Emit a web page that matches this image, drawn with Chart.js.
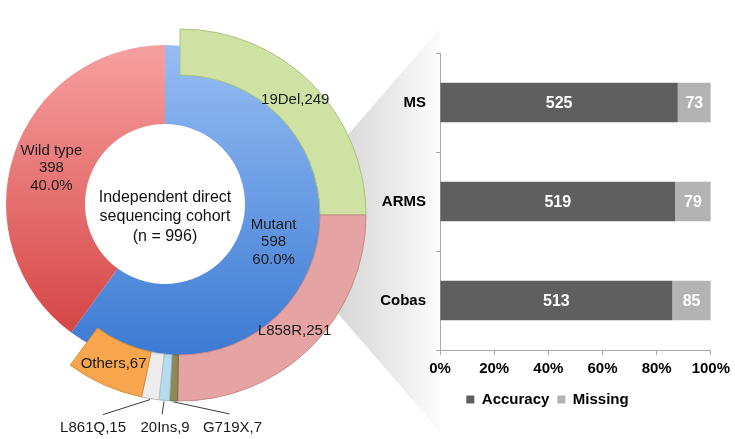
<!DOCTYPE html>
<html><head><meta charset="utf-8">
<script src="https://cdn.jsdelivr.net/npm/chart.js@4/dist/chart.umd.min.js"></script>
<style>
html,body{margin:0;padding:0;background:#fff;overflow:hidden;width:735px;height:439px;}
#wrap{position:relative;width:735px;height:439px;}
canvas{position:absolute;left:0;top:0;}
#wedge{position:absolute;left:320px;top:0;width:130px;height:439px;
  clip-path:polygon(15px 150px,120px 28px,120px 432px,15px 310px);
  background:linear-gradient(to right,#d2d2d2 0%,#e4e4e4 45%,#f6f6f6 80%,#ffffff 100%);}
</style></head><body>
<div id="wrap">
<div id="wedge"></div>
<canvas id="bars" width="735" height="439"></canvas>
<canvas id="pie" width="735" height="439"></canvas>
<canvas id="ring" width="735" height="439"></canvas>
</div>
<script>
// ---------- data ----------
const statusLabels = ['Mutant', 'Wild type'];
const statusCounts = [598, 398];
const subtypeLabels = ['19Del', 'L858R', 'G719X', '20Ins', 'L861Q', 'Others', 'Wild type'];
const subtypeCounts = [249, 251, 7, 9, 15, 67, 398];
const cohortLines = ['Independent direct', 'sequencing cohort', '(n = 996)'];
const methodLabels = ['MS', 'ARMS', 'Cobas'];
const accuracyCounts = [525, 519, 513];
const missingCounts = [73, 79, 85];
const seriesLabels = ['Accuracy', 'Missing'];
const xTickStep = 20;

// ---------- styling ----------
const FONT = "'Liberation Sans', Arial, Helvetica, sans-serif";
Chart.defaults.font.family = FONT;
Chart.defaults.animation = false;
Chart.defaults.devicePixelRatio = 1;
Chart.defaults.events = [];

const PIE_R = 159, PIE_HOLE = 80;
const RING_R = 186, RING_IN = 140;

function drawLines(ctx, lines, x, y, lh, font, color) {
  ctx.save();
  ctx.font = font; ctx.fillStyle = color;
  ctx.textAlign = 'center'; ctx.textBaseline = 'middle';
  const y0 = y - (lines.length - 1) * lh / 2;
  lines.forEach((t, i) => ctx.fillText(t, x, y0 + i * lh));
  ctx.restore();
}

function vGrad(chart, r, c0, c1) {
  const a = chart.chartArea;
  if (!a) return c1;
  const cy = (a.top + a.bottom) / 2;
  const g = chart.ctx.createLinearGradient(0, cy - r, 0, cy + r);
  g.addColorStop(0, c0); g.addColorStop(1, c1);
  return g;
}

// ---------- inner pie (mutation status) ----------
const statusTotal = statusCounts.reduce((a, b) => a + b, 0);
const pieLabelPlugin = {
  id: 'pieLabels',
  afterDatasetsDraw(chart) {
    const ctx = chart.ctx;
    const meta = chart.getDatasetMeta(0);
    meta.data.forEach((arc, i) => {
      const p = arc.tooltipPosition();
      const pct = (statusCounts[i] / statusTotal * 100).toFixed(1) + '%';
      const dx = i === 0 ? -5 : 0;
      drawLines(ctx, [statusLabels[i], String(statusCounts[i]), pct], p.x + dx, p.y + 1, 17.5, '15px ' + FONT, '#1a1a1a');
    });
    const c = meta.data[0];
    drawLines(ctx, cohortLines, c.x, c.y + 13, 19.5, '16px ' + FONT, '#111');
  }
};
new Chart(document.getElementById('pie'), {
  type: 'doughnut',
  data: {
    labels: statusLabels,
    datasets: [{
      data: statusCounts,
      backgroundColor: (c) => c.dataIndex === 0
        ? vGrad(c.chart, PIE_R, '#95bdf4', '#3a79d2')
        : vGrad(c.chart, PIE_R, '#f7a0a0', '#d23c3c'),
      borderWidth: 0,
      clip: false
    }]
  },
  options: {
    responsive: false,
    radius: PIE_R,
    cutout: (PIE_HOLE / PIE_R * 100) + '%',
    layout: {padding: {left: 0, right: 405, top: 0, bottom: 31}},
    plugins: {legend: {display: false}, tooltip: {enabled: false}}
  },
  plugins: [pieLabelPlugin]
});

// ---------- outer ring (mutation subtypes) ----------
const ringColors = ['#cfe2a4', '#e6a3a3', '#8f8a55', '#b5dcee', '#ececec', '#f8a64e', 'rgba(0,0,0,0)'];
const ringBorders = ['#a9c27c', '#c98787', '#6e6a3c', '#8fbdd3', '#bdbdbd', '#d98b34', 'rgba(0,0,0,0)'];
const namedSlices = [0, 1, 5];
const leaderSlices = {2: [56, 12, 3, 14], 3: [-2, 13, 3, 14], 4: [-47, 15, -10, 13]};
const ringLabelPlugin = {
  id: 'ringLabels',
  afterDatasetsDraw(chart) {
    const ctx = chart.ctx;
    const meta = chart.getDatasetMeta(0);
    namedSlices.forEach(i => {
      const p = meta.data[i].tooltipPosition();
      drawLines(ctx, [subtypeLabels[i] + ',' + subtypeCounts[i]], p.x, p.y, 17, '15px ' + FONT, '#1a1a1a');
    });
    Object.keys(leaderSlices).forEach(k => {
      const i = +k, arc = meta.data[i], o = leaderSlices[k];
      const a = (arc.startAngle + arc.endAngle) / 2;
      const px = arc.x + Math.cos(a) * (arc.outerRadius + 1);
      const py = arc.y + Math.sin(a) * (arc.outerRadius + 1);
      const ex = px + o[0], ey = py + o[1];
      ctx.save();
      ctx.strokeStyle = '#3a3a3a'; ctx.lineWidth = 1;
      ctx.beginPath(); ctx.moveTo(px, py); ctx.lineTo(ex, ey); ctx.stroke();
      ctx.restore();
      drawLines(ctx, [subtypeLabels[i] + ',' + subtypeCounts[i]], ex + o[2], ey + o[3], 17, '15px ' + FONT, '#1a1a1a');
    });
  }
};
new Chart(document.getElementById('ring'), {
  type: 'doughnut',
  data: {
    labels: subtypeLabels,
    datasets: [{
      data: subtypeCounts,
      backgroundColor: ringColors,
      borderColor: ringBorders,
      borderWidth: [1, 1, 1, 1, 1, 1, 0],
      clip: false
    }]
  },
  options: {
    responsive: false,
    radius: RING_R,
    cutout: (RING_IN / RING_R * 100) + '%',
    layout: {padding: {left: 0, right: 375, top: 0, bottom: 9}},
    plugins: {legend: {display: false}, tooltip: {enabled: false}}
  },
  plugins: [ringLabelPlugin]
});

// ---------- 100% stacked bars (methods) ----------
const methodTotals = accuracyCounts.map((v, i) => v + missingCounts[i]);
const accuracyPct = accuracyCounts.map((v, i) => v / methodTotals[i] * 100);
const missingPct = missingCounts.map((v, i) => v / methodTotals[i] * 100);
const barCounts = [accuracyCounts, missingCounts];
const barValuePlugin = {
  id: 'barValues',
  afterDatasetsDraw(chart) {
    const ctx = chart.ctx;
    chart.data.datasets.forEach((ds, d) => {
      chart.getDatasetMeta(d).data.forEach((el, i) => {
        drawLines(ctx, [String(barCounts[d][i])], (el.x + el.base) / 2, el.y + 1, 18, 'bold 16px ' + FONT, '#ffffff');
      });
    });
  }
};
const boldTick = {size: 15, weight: 'bold', family: FONT};
new Chart(document.getElementById('bars'), {
  type: 'bar',
  data: {
    labels: methodLabels,
    datasets: [
      {label: seriesLabels[0], data: accuracyPct, backgroundColor: '#5f5f5f'},
      {label: seriesLabels[1], data: missingPct, backgroundColor: '#b3b3b3'}
    ]
  },
  options: {
    responsive: false,
    indexAxis: 'y',
    barPercentage: 0.4,
    categoryPercentage: 1,
    layout: {padding: {left: 380, right: 20, top: 53, bottom: 22}},
    scales: {
      x: {
        stacked: true, min: 0, max: 100,
        ticks: {stepSize: xTickStep, callback: v => v + '%', font: boldTick, color: '#000', padding: 5},
        grid: {drawOnChartArea: false, tickLength: 5, color: '#a8a8a8'},
        border: {color: '#a8a8a8'},
        afterFit: s => { s.height = 34; }
      },
      y: {
        stacked: true,
        ticks: {font: boldTick, color: '#000', padding: 10},
        grid: {drawOnChartArea: false, tickLength: 4, color: '#a8a8a8', offset: true},
        border: {color: '#a8a8a8'},
        afterFit: s => { s.width = 60; }
      }
    },
    plugins: {
      legend: {
        position: 'bottom',
        labels: {boxWidth: 8, boxHeight: 8, font: boldTick, color: '#000', padding: 8}
      },
      tooltip: {enabled: false}
    }
  },
  plugins: [barValuePlugin]
});
</script>
</body></html>
